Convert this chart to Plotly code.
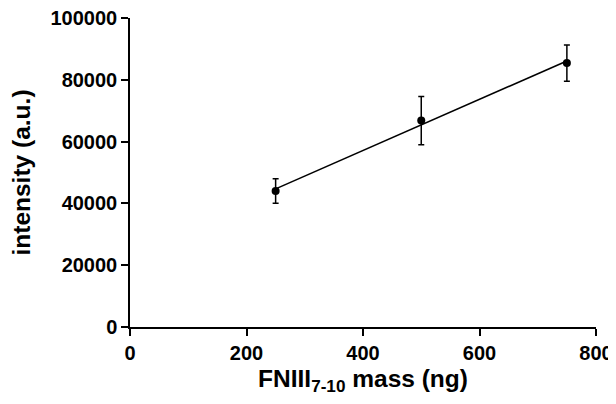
import numpy as np
import plotly.graph_objects as go

mass_ng = [250, 500, 750]
intensity = [44000, 66800, 85400]
intensity_err = [3950, 7830, 5900]

x_ticks = [0, 200, 400, 600, 800]
y_ticks = [0, 20000, 40000, 60000, 80000, 100000]

slope, intercept = np.polyfit(mass_ng, intensity, 1)
fit_x = [min(mass_ng), max(mass_ng)]
fit_y = [slope * v + intercept for v in fit_x]

FONT = "Liberation Sans, Arial, sans-serif"

fig = go.Figure()
fig.add_trace(go.Scatter(x=fit_x, y=fit_y, mode="lines",
                         line=dict(color="black", width=1.6), showlegend=False))
fig.add_trace(go.Scatter(
    x=mass_ng, y=intensity, mode="markers",
    marker=dict(color="black", size=8),
    error_y=dict(type="data", array=intensity_err, visible=True,
                 color="black", thickness=1.5, width=3),
    showlegend=False))

# page body has an 8px default margin, so the figure is sized to fit the window
fig.update_layout(
    width=608, height=396,
    margin=dict(l=122, r=20, t=10, b=77),
    paper_bgcolor="white", plot_bgcolor="white",
    font=dict(family=FONT, color="black"),
)
fig.update_xaxes(
    range=[0, 800], tickvals=x_ticks, ticktext=[str(v) for v in x_ticks],
    automargin=False, ticklabeloverflow="allow",
    showline=True, linecolor="black", linewidth=1.5,
    ticks="outside", ticklen=7, tickwidth=1.5, tickcolor="black",
    showgrid=False, zeroline=False,
    tickfont=dict(size=20, family=FONT, weight="bold"),
    title=dict(text="FNIII<sub>7-10</sub> mass (ng)", standoff=7,
               font=dict(size=24.5, family=FONT, weight="bold")),
)
fig.update_yaxes(
    range=[0, 100000], tickvals=y_ticks, ticktext=[str(v) for v in y_ticks],
    automargin=False, ticklabeloverflow="allow",
    showline=True, linecolor="black", linewidth=1.5,
    ticks="outside", ticklen=7, tickwidth=1.5, tickcolor="black",
    showgrid=False, zeroline=False,
    tickfont=dict(size=20, family=FONT, weight="bold"),
    title=dict(text="intensity (a.u.)", standoff=26,
               font=dict(size=24.5, family=FONT, weight="bold")),
)

fig.write_html("out.html")
